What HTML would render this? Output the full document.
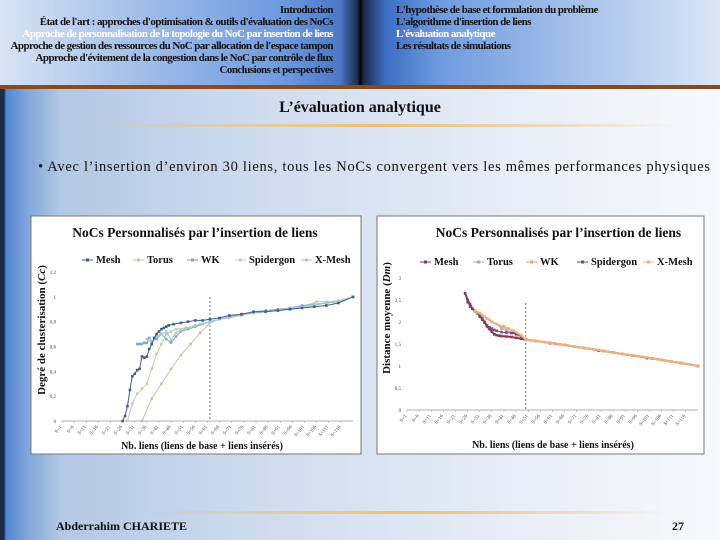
<!DOCTYPE html>
<html><head><meta charset="utf-8"><style>
html,body{margin:0;padding:0}
body{width:720px;height:540px;position:relative;overflow:hidden;font-family:"Liberation Serif",serif;background:linear-gradient(90deg,#1c2c4a 0,#1c2c4a 4px,#4f86d6 6px,#7aa2d8 24px,#b3c8e4 60px,#cfdcee 260px,#e8eef7 520px,#f7f9fc 720px)}
.hdr{position:absolute;top:0;height:86px}
.t{position:absolute;white-space:nowrap;color:#111}
.nav div{white-space:nowrap}
</style></head><body>
<div class="hdr" style="left:0;width:360px;background:linear-gradient(90deg,#d8e4f4 0,#a9c3ea 120px,#6f9be0 280px,#4a78c8 340px,#1a2a4a 358px,#000 360px)"></div>
<div class="hdr" style="left:360px;width:360px;background:linear-gradient(90deg,#000 0,#1a2a4a 4px,#3b6cc0 24px,#6f9be0 80px,#a8c2ea 220px,#dbe6f5 360px)"></div>
<div style="position:absolute;top:85px;left:0;width:720px;height:4px;background:#8a4a1e"></div>
<div class="nav" style="position:absolute;right:387px;top:4px;text-align:right;font-size:11px;line-height:12px;font-weight:bold;letter-spacing:-0.55px;color:#111">
<div>Introduction</div>
<div>État de l'art : approches d'optimisation &amp; outils d'évaluation des NoCs</div>
<div style="color:#fff">Approche de personnalisation de la topologie du NoC par insertion de liens</div>
<div>Approche de gestion des ressources du NoC par allocation de l'espace tampon</div>
<div>Approche d'évitement de la congestion dans le NoC par contrôle de flux</div>
<div>Conclusions et perspectives</div>
</div>
<div class="nav" style="position:absolute;left:396px;top:4px;font-size:11px;line-height:12px;font-weight:bold;letter-spacing:-0.55px;color:#111">
<div>L'hypothèse de base et formulation du problème</div>
<div>L'algorithme d'insertion de liens</div>
<div style="color:#fff">L'évaluation analytique</div>
<div>Les résultats de simulations</div>
</div>
<div class="t" style="left:0;width:720px;text-align:center;top:99px;font-size:16px;font-weight:bold">L’évaluation analytique</div>
<div style="position:absolute;left:80px;top:124px;width:600px;height:3px;background:linear-gradient(90deg,rgba(240,190,110,0),#f0c070 50%,rgba(240,190,110,0))"></div>
<svg width="720" height="30" style="position:absolute;left:0;top:152px"><text x="38" y="19" font-family="Liberation Serif, serif" font-size="14.5" fill="#111" textLength="672" lengthAdjust="spacing">•  Avec l’insertion d’environ 30 liens, tous les NoCs convergent vers les mêmes performances physiques</text></svg>
<div style="position:absolute;left:130px;top:511px;width:540px;height:3px;background:linear-gradient(90deg,rgba(240,190,110,0),#f0c070 50%,rgba(240,190,110,0))"></div>
<div class="t" style="left:56px;top:519px;font-size:12px;font-weight:bold">Abderrahim CHARIETE</div>
<div class="t" style="left:672px;top:519px;font-size:12px;font-weight:bold">27</div>

<svg id="svg" width="720" height="540" style="position:absolute;left:0;top:0;pointer-events:none" font-family="Liberation Serif, serif"></svg>
<script>
// ---- Left chart data (Degré de clusterisation) ----
const leftTicks=[0,0.2,0.4,0.6,0.8,1,1.2];
const leftTickLabels=["0","0,2","0,4","0,6","0,8","1","1,2"];
const meshCcX=[26,27,28,29,30,31,32,33,34,35,36,37,38,39,40,41,42,43,44,45,47,50,53,56,59,62,66,70,75,80,85,90,95,100,105,110,115,121];
const meshCcY=[0,0.04,0.12,0.25,0.36,0.38,0.41,0.42,0.52,0.51,0.52,0.58,0.62,0.67,0.70,0.72,0.74,0.75,0.76,0.77,0.78,0.79,0.80,0.81,0.81,0.82,0.83,0.85,0.86,0.88,0.88,0.89,0.90,0.91,0.92,0.93,0.95,1.0];
const torusCcX=[34,38,42,46,50,54,58,62,66,70,75,80,85,90,95,100,105,110,115,121];
const torusCcY=[0,0.18,0.3,0.42,0.53,0.62,0.71,0.79,0.82,0.83,0.85,0.87,0.88,0.89,0.90,0.92,0.93,0.95,0.96,1.0];
const wkCcX=[32,33,34,35,36,37,38,40,42,44,46,48,50,53,56,59,62,66,70,75,80,85,90,95,100,105,110,115,121];
const wkCcY=[0.62,0.62,0.62,0.63,0.63,0.67,0.64,0.66,0.70,0.66,0.63,0.68,0.72,0.74,0.76,0.78,0.80,0.82,0.84,0.86,0.88,0.89,0.90,0.91,0.93,0.94,0.95,0.96,1.0];
const spiderCcX=[28,30,32,34,36,38,40,42,44,46,48,52,55,58,62,66,70,75,80,85,90,95,100,106,110,115,121];
const spiderCcY=[0,0.14,0.22,0.26,0.3,0.42,0.54,0.62,0.70,0.72,0.74,0.75,0.76,0.78,0.80,0.82,0.84,0.86,0.87,0.88,0.89,0.91,0.92,0.96,0.96,0.97,1.0];
const xmeshCcX=[36,38,40,42,44,46,48,50,52,54,56,59,62,66,70,75,80,85,90,95,100,105,110,115,121];
const xmeshCcY=[0.66,0.63,0.68,0.70,0.72,0.65,0.71,0.73,0.74,0.75,0.77,0.78,0.80,0.82,0.84,0.86,0.87,0.88,0.89,0.91,0.92,0.94,0.95,0.96,1.0];
// ---- Right chart data (Distance moyenne) ----
const rightTicks=[0,0.5,1,1.5,2,2.5,3];
const rightTickLabels=["0","0,5","1","1,5","2","2,5","3"];
const meshDmX=[25,26,27,28,29,30,31,32,33,34,35,36,37,38,39,40,42,44,46,48,50,54,58,62,66,70,74,78,82,86,90,94,98,102,106,110,114,118,121];
const meshDmY=[2.65,2.5,2.4,2.3,2.25,2.2,2.14,2.08,2.0,1.9,1.84,1.78,1.72,1.7,1.69,1.68,1.67,1.66,1.64,1.62,1.6,1.57,1.54,1.51,1.48,1.44,1.41,1.38,1.34,1.31,1.27,1.24,1.21,1.17,1.14,1.1,1.07,1.03,1.0];
const torusDmX=[28,30,32,34,36,38,40,42,45,48,50,60,80,100,121];
const torusDmY=[2.3,2.2,2.15,2.08,2.0,1.95,1.85,1.8,1.75,1.68,1.6,1.52,1.35,1.18,1.0];
const wkDmX=[41,43,45,47,50,60,80,100,121];
const wkDmY=[1.9,1.85,1.78,1.7,1.6,1.52,1.35,1.18,1.0];
const spiderDmX=[25,26,27,28,29,30,31,32,33,34,35,36,37,38,40,42,44,45,46,48,50,60,80,100,121];
const spiderDmY=[2.65,2.45,2.35,2.3,2.25,2.2,2.12,2.05,1.98,1.92,1.88,1.85,1.82,1.8,1.77,1.76,1.75,1.75,1.72,1.68,1.6,1.52,1.35,1.18,1.0];
const xmeshDmX=[29,30,31,32,33,34,35,36,38,40,42,45,48,50,54,58,62,66,70,74,78,82,86,90,94,98,102,106,110,114,118,121];
const xmeshDmY=[2.25,2.22,2.2,2.16,2.12,2.08,2.05,2.0,1.95,1.9,1.85,1.8,1.7,1.6,1.57,1.54,1.51,1.48,1.44,1.41,1.38,1.34,1.31,1.27,1.24,1.21,1.17,1.14,1.1,1.07,1.03,1.0];
const xCatLabels=[1,6,11,16,21,26,31,36,41,46,51,56,61,66,71,76,81,86,91,96,101,106,111,116];
const legendOrder=['Mesh','Torus','WK','Spidergon','X-Mesh'];

const NS="http://www.w3.org/2000/svg";
const svg=document.getElementById('svg');
function mk(tag,attrs,parent,txt){const e=document.createElementNS(NS,tag);for(const k in attrs)e.setAttribute(k,attrs[k]);if(txt!==undefined)e.textContent=txt;(parent||svg).appendChild(e);return e;}

function chart(o){
  const g=mk('g',{});
  
  
  const box=mk('rect',{x:o.bx,y:o.by,width:o.bw,height:o.bh,fill:'#fff',stroke:'#777','stroke-width':1},g);
  
  
  const sx=i=>o.x0+(i-1)*(o.x1-o.x0)/120;
  const sy=v=>o.y0-(v-o.ymin)*(o.y0-o.y1)/(o.ymax-o.ymin);
  const t=mk('text',{x:o.bx+o.bw/2+o.toff,y:o.by+21,'text-anchor':'middle','font-size':13.5,'font-weight':'bold',fill:'#111'},g,'NoCs Personnalisés par l’insertion de liens');
  
  
  o.ticks.forEach((v,k)=>{
    const l=mk('text',{x:o.x0-6,y:sy(v)+2,'text-anchor':'end','font-size':5,fill:'#444'},g,o.tickLabels[k]);
    
    
  });
  const ax=mk('line',{x1:o.x0,y1:o.y0,x2:o.x1,y2:o.y0,stroke:'#999','stroke-width':0.8},g);
  
  
  xCatLabels.forEach(c=>{
    const x=sx(c);
    mk('line',{x1:x,y1:o.y0,x2:x,y2:o.y0+2,stroke:'#999','stroke-width':0.5},g);
    const l=mk('text',{x:x,y:o.y0+6,'text-anchor':'end','font-size':5,fill:'#444',transform:`rotate(-50 ${x} ${o.y0+6})`},g,'S='+c);
    
    
  });
  const d=mk('line',{x1:sx(o.dash),y1:o.y1+25,x2:sx(o.dash),y2:o.y0,stroke:'#333','stroke-width':0.7,'stroke-dasharray':'2,2'},g);
  
  
  o.series.forEach(s=>{
    const pts=s.x.map((c,i)=>sx(c).toFixed(1)+','+sy(s.y[i]).toFixed(1)).join(' ');
    const p=mk('polyline',{points:pts,fill:'none',stroke:s.c,'stroke-width':s.w||1},g);
    
    
    s.x.forEach((c,i)=>{
      const m=mk('rect',{x:sx(c)-1.3,y:sy(s.y[i])-1.3,width:2.6,height:2.6,fill:s.c},g);
      
      
    });
  });
  legendOrder.forEach((name,k)=>{
    const s=o.series.find(q=>q.n===name);
    const lx=o.lx[k];
    const lg=mk('g',{},g);
    
    
    mk('line',{x1:lx-14,y1:o.ly-3,x2:lx-3,y2:o.ly-3,stroke:s.c,'stroke-width':1},lg);
    mk('rect',{x:lx-10,y:o.ly-4.5,width:3,height:3,fill:s.c},lg);
    mk('text',{x:lx,y:o.ly,'font-size':10.5,'font-weight':'bold',fill:'#111'},lg,s.n);
  });
  const yt=mk('text',{x:o.ytx,y:o.yty,'text-anchor':'middle','font-size':11,'font-weight':'bold',fill:'#111',transform:`rotate(-90 ${o.ytx} ${o.yty})`},g);
  yt.innerHTML=o.ytitle;
  
  
  const xt=mk('text',{x:o.xtx,y:o.xty,'text-anchor':'middle','font-size':10,'font-weight':'bold',fill:'#111'},g,'Nb. liens (liens de base + liens insérés)');
  
  
}
chart({name:'clustering-chart',bx:31,by:216,bw:330,bh:238,toff:-1,x0:62,x1:353,y0:421,y1:272,ymin:0,ymax:1.2,
  ticks:leftTicks,tickLabels:leftTickLabels,dash:62,lx:[96,147,201,249,315],ly:263,
  ytx:45,yty:330,ytitle:'Degré de clusterisation (<tspan font-style="italic">Cc</tspan>)',xtx:202,xty:449,
  series:[{n:'Torus',x:torusCcX,y:torusCcY,c:'#c9c49a'},{n:'Spidergon',x:spiderCcX,y:spiderCcY,c:'#b9d6a2'},
  {n:'WK',x:wkCcX,y:wkCcY,c:'#86a9c4'},{n:'X-Mesh',x:xmeshCcX,y:xmeshCcY,c:'#9ec8d8'},{n:'Mesh',x:meshCcX,y:meshCcY,c:'#3f5f8f'}]});
chart({name:'distance-chart',bx:377,by:216,bw:327,bh:238,toff:18,x0:407,x1:698,y0:410,y1:278,ymin:0,ymax:3,
  ticks:rightTicks,tickLabels:rightTickLabels,dash:50,lx:[434,487,540,591,657],ly:265,
  ytx:390,yty:318,ytitle:'Distance moyenne (<tspan font-style="italic">Dm</tspan>)',xtx:553,xty:448,
  series:[{n:'Torus',x:torusDmX,y:torusDmY,c:'#b3a3b8'},{n:'WK',x:wkDmX,y:wkDmY,c:'#e6a86a'},
  {n:'Spidergon',x:spiderDmX,y:spiderDmY,c:'#6e4e8e'},{n:'Mesh',x:meshDmX,y:meshDmY,c:'#8c3b4c',w:2},{n:'X-Mesh',x:xmeshDmX,y:xmeshDmY,c:'#f0b07a',w:2}]});
</script>
</body></html>
